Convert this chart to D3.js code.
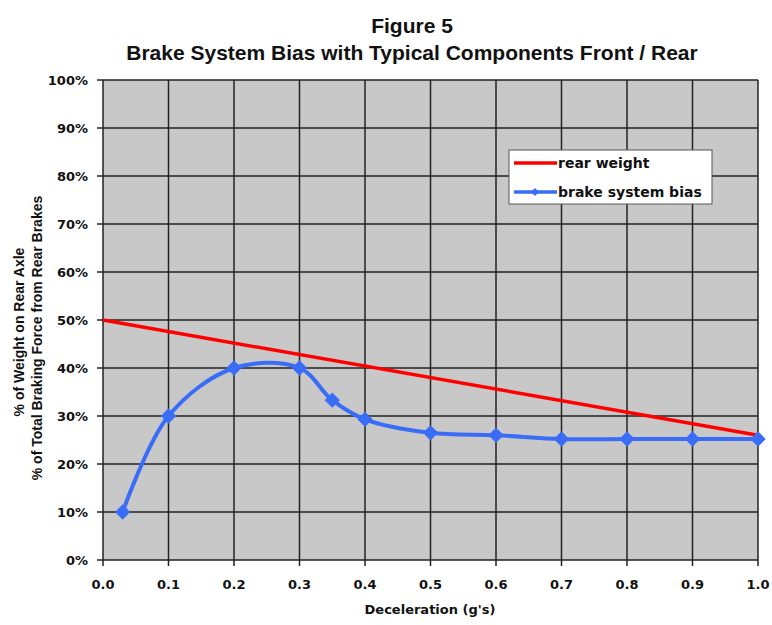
<!DOCTYPE html>
<html><head><meta charset="utf-8">
<script src="https://cdn.jsdelivr.net/npm/d3@7"></script>
<style>body{margin:0;background:#fff}text{font-family:Arial,"Liberation Sans",sans-serif;font-weight:bold;fill:#111}.dv{font-family:"DejaVu Sans",Verdana,sans-serif}</style>
</head><body>
<script>
const xTicks = [0,0.1,0.2,0.3,0.4,0.5,0.6,0.7,0.8,0.9,1.0];
const yTicks = [0,10,20,30,40,50,60,70,80,90,100];
const rearX = [0, 1.0];
const rearWeight = [50, 26];
const biasX = [0.03,0.1,0.2,0.3,0.35,0.4,0.5,0.6,0.7,0.8,0.9,1.0];
const biasY = [10,30,40,40,33.3,29.3,26.5,26,25.2,25.2,25.2,25.2];
const seriesNames = ["rear weight","brake system bias"];

const W=772,H=625;
const svg=d3.select("body").append("svg").attr("width",W).attr("height",H);
const x=d3.scaleLinear().domain([0,1]).range([103,758]);
const y=d3.scaleLinear().domain([0,100]).range([560,80]);

svg.append("text").attr("x",412).attr("y",33).attr("text-anchor","middle").attr("font-size",21).text("Figure 5");
svg.append("text").attr("x",412).attr("y",60).attr("text-anchor","middle").attr("font-size",21).text("Brake System Bias with Typical Components Front / Rear");

svg.append("rect").attr("x",x(0)).attr("y",y(100)).attr("width",x(1)-x(0)).attr("height",y(0)-y(100)).attr("fill","#c8c8c8");

// grid
svg.append("g").selectAll("line").data(yTicks).join("line")
 .attr("x1",x(0)-6).attr("x2",x(1)).attr("y1",d=>y(d)).attr("y2",d=>y(d)).attr("stroke","#222").attr("stroke-width",1.5);
svg.append("g").selectAll("line").data(xTicks).join("line")
 .attr("y1",y(100)).attr("y2",y(0)+6).attr("x1",d=>x(d)).attr("x2",d=>x(d)).attr("stroke","#222").attr("stroke-width",1.5);

svg.append("g").selectAll("text").data(yTicks).join("text").attr("class","dv")
 .attr("x",88).attr("y",d=>y(d)+5).attr("text-anchor","end").attr("font-size",13).text(d=>d+"%");
svg.append("g").selectAll("text").data(xTicks).join("text").attr("class","dv")
 .attr("x",d=>x(d)).attr("y",589).attr("text-anchor","middle").attr("font-size",13).text(d=>d.toFixed(1));

svg.append("text").attr("class","dv").attr("x",430).attr("y",614).attr("text-anchor","middle").attr("font-size",13).text("Deceleration (g's)");
svg.append("text").attr("transform","translate(24,332) rotate(-90)").attr("text-anchor","middle").attr("font-size",14).text("% of Weight on Rear Axle");
svg.append("text").attr("transform","translate(42,338) rotate(-90)").attr("text-anchor","middle").attr("font-size",14).text("% of Total Braking Force from Rear Brakes");

const rear=rearX.map((v,i)=>[v,rearWeight[i]]);
svg.append("path").datum(rear).attr("d",d3.line().x(d=>x(d[0])).y(d=>y(d[1])))
 .attr("fill","none").attr("stroke","#ff0000").attr("stroke-width",3.5);

const bias=biasX.map((v,i)=>[v,biasY[i]]);
const blue="#3a6df7";
svg.append("path").datum(bias).attr("d",d3.line().curve(d3.curveCatmullRom.alpha(0.5)).x(d=>x(d[0])).y(d=>y(d[1])))
 .attr("fill","none").attr("stroke",blue).attr("stroke-width",4);
svg.append("g").selectAll("path").data(bias).join("path")
 .attr("d",d3.symbol().type(d3.symbolDiamond2).size(150))
 .attr("transform",d=>`translate(${x(d[0])},${y(d[1])})`).attr("fill",blue);

// legend
const lg=svg.append("g");
lg.append("rect").attr("x",509).attr("y",150).attr("width",203).attr("height",54).attr("fill","#fff").attr("stroke","#555").attr("stroke-width",1);
lg.append("line").attr("x1",514).attr("x2",557).attr("y1",163).attr("y2",163).attr("stroke","#ff0000").attr("stroke-width",3.5);
lg.append("line").attr("x1",514).attr("x2",557).attr("y1",192).attr("y2",192).attr("stroke",blue).attr("stroke-width",3.5);
lg.append("path").attr("d",d3.symbol().type(d3.symbolDiamond2).size(40)).attr("transform","translate(535,192)").attr("fill",blue);
lg.append("text").attr("class","dv").attr("x",558).attr("y",168).attr("font-size",14).text(seriesNames[0]);
lg.append("text").attr("class","dv").attr("x",558).attr("y",197).attr("font-size",14).text(seriesNames[1]);
</script>
</body></html>
